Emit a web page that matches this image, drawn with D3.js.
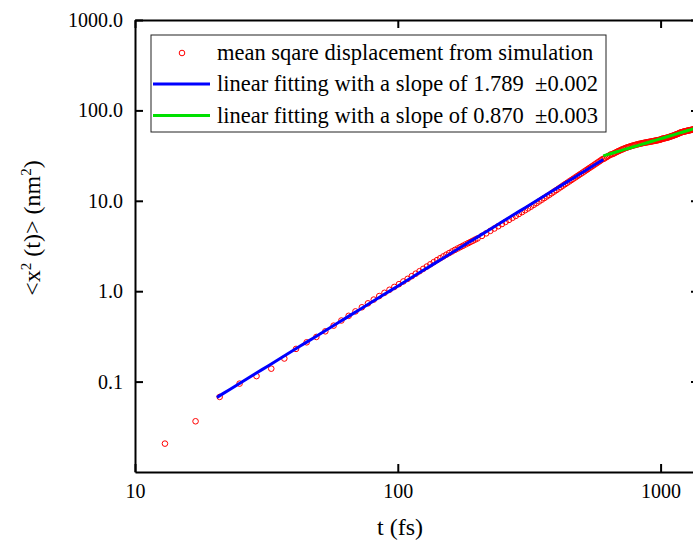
<!DOCTYPE html>
<html>
<head>
<meta charset="utf-8">
<script src="https://cdn.jsdelivr.net/npm/d3@7"></script>
<style>
  body { margin: 0; background: #ffffff; }
  svg { display: block; }
  text { font-family: "Liberation Serif", "Times New Roman", serif; fill: #000; white-space: pre; }
</style>
</head>
<body>
<svg id="chart" width="693" height="545"></svg>
<script>
// Time points of the simulation output (fs)
const times = [
  13, 17, 21, 25, 29, 33, 37, 41, 45, 49, 53, 57,
  61, 65, 69, 73, 77, 81, 85, 89, 93, 97, 101, 105, 109, 113, 117, 121,
  125, 129, 133, 137, 141, 145, 149, 153, 157, 161, 165, 169, 173, 177,
  181, 185, 189, 193, 197, 201,
  209, 217, 225, 233, 241, 249, 257, 265, 273, 281,
  289, 297, 305, 313, 321, 329, 337, 345, 353, 361,
  369, 377, 385, 393, 401, 409, 417, 425, 433, 441,
  449, 457, 465, 473, 481, 489, 497, 505, 513, 521,
  529, 537, 545, 553, 561, 569, 577, 585, 593, 601,
  609, 617, 625, 633, 641, 649, 657, 665, 673, 681,
  689, 697, 705, 713, 721, 729, 737, 745, 753, 761,
  769, 777, 785, 793, 801, 809, 817, 825, 833, 841,
  849, 857, 865, 873, 881, 889, 897, 905, 913, 921,
  929, 937, 945, 953, 961, 969, 977, 985, 993, 1001,
  1009, 1017, 1025, 1033, 1041, 1049, 1057, 1065, 1073, 1081,
  1089, 1097, 1105, 1113, 1121, 1129, 1137, 1145, 1153, 1161,
  1169, 1177, 1185, 1193, 1201, 1209, 1217, 1225, 1233, 1241,
  1249, 1257, 1265, 1273, 1281, 1289, 1297, 1305, 1313, 1321,
  1329, 1337, 1345, 1353, 1361, 1369, 1377, 1385, 1393, 1401
];

// Mean square displacement <x^2(t)> (nm^2)
const msd = [
  0.0206, 0.0364, 0.0677, 0.095, 0.115, 0.139, 0.180, 0.230, 0.272, 0.312, 0.360, 0.416,
  0.474, 0.534, 0.598, 0.664, 0.734, 0.808, 0.884, 0.960, 1.037, 1.115, 1.196, 1.282,
  1.370, 1.466, 1.563, 1.664, 1.768, 1.875, 1.985, 2.097, 2.208, 2.316, 2.426, 2.537,
  2.645, 2.754, 2.865, 2.970, 3.075, 3.182, 3.289, 3.396, 3.505, 3.613, 3.724, 3.832,
  4.090, 4.365, 4.647, 4.935, 5.228, 5.530, 5.837, 6.152, 6.477, 6.803,
  7.155, 7.496, 7.860, 8.230, 8.612, 9.022, 9.417, 9.842, 10.28, 10.72,
  11.18, 11.64, 12.12, 12.63, 13.12, 13.66, 14.17, 14.73, 15.27, 15.81,
  16.36, 16.93, 17.51, 18.09, 18.68, 19.29, 19.90, 20.52, 21.15, 21.80,
  22.46, 23.12, 23.79, 24.47, 25.18, 25.88, 26.60, 27.32, 28.06, 28.87,
  29.21, 29.95, 30.66, 31.35, 32.05, 32.70, 32.87, 33.49, 34.11, 34.71,
  35.29, 35.85, 36.41, 36.94, 37.46, 37.96, 38.43, 38.89, 39.29, 39.69,
  40.07, 40.45, 40.82, 41.16, 41.50, 41.82, 42.14, 42.44, 42.72, 43.01,
  43.27, 43.52, 43.77, 44.00, 44.23, 44.45, 44.66, 44.87, 45.08, 45.31,
  45.51, 45.74, 45.96, 46.19, 46.42, 46.64, 46.88, 47.11, 47.36, 47.60,
  48.33, 48.58, 48.84, 49.08, 49.35, 49.59, 49.87, 50.21, 50.56, 50.91,
  51.29, 51.67, 52.06, 52.44, 52.84, 53.27, 53.68, 54.11, 54.53, 54.97,
  55.42, 55.88, 56.65, 56.96, 57.28, 57.60, 57.91, 58.20, 58.50, 58.77,
  59.04, 59.31, 59.58, 59.83, 60.06, 60.33, 60.55, 60.78, 61.01, 61.22,
  61.43, 61.69, 61.92, 62.17, 62.41, 62.66, 62.89, 63.13, 63.37, 63.61
];

// Power-law fits: log10(msd) = intercept + slope * log10(t)
const fitSlopes = [1.789, 0.870];
const fitErrors = [0.002, 0.003];
const fitLogIntercepts = [-3.521, -0.923];
const fitStart = [20.5, 605];
const fitEnd = [605, 1400];
const fitColors = ["#0000ff", "#00e000"];

const xTicks = [10, 100, 1000];
const yTicks = [0.1, 1, 10, 100, 1000];

const legendLabels = [
  "mean sqare displacement from simulation",
  `linear fitting with a slope of ${fitSlopes[0].toFixed(3)}  \u00b1${fitErrors[0].toFixed(3)}`,
  `linear fitting with a slope of ${fitSlopes[1].toFixed(3)}  \u00b1${fitErrors[1].toFixed(3)}`
];

const serif = '"Liberation Serif", "Times New Roman", serif';

// ---- layout ----
const frame = { left: 135, right: 699, top: 20, bottom: 472 };
const svg = d3.select("#chart");

const x = d3.scaleLog().domain([10, 1400]).range([frame.left, frame.right]);
const y = d3.scaleLog().domain([0.01, 1000]).range([frame.bottom, frame.top]);

svg.append("defs").append("clipPath").attr("id", "plot-clip")
  .append("rect")
  .attr("x", frame.left).attr("y", frame.top)
  .attr("width", frame.right - frame.left).attr("height", frame.bottom - frame.top);

const plot = svg.append("g").attr("clip-path", "url(#plot-clip)");

// simulation points
const points = times.map((t, i) => ({ t, v: msd[i] }));
plot.append("g").selectAll("circle")
  .data(points)
  .join("circle")
  .attr("cx", d => x(d.t))
  .attr("cy", d => y(d.v))
  .attr("r", 2.8)
  .attr("fill", "none")
  .attr("stroke", "#ff0000")
  .attr("stroke-width", 1);

// fitted lines
const line = d3.line().x(d => x(d[0])).y(d => y(d[1]));
fitSlopes.forEach((s, i) => {
  const ts = d3.range(0, 61).map(k => fitStart[i] * Math.pow(fitEnd[i] / fitStart[i], k / 60));
  const pts = ts.map(t => [t, Math.pow(10, fitLogIntercepts[i] + s * Math.log10(t))]);
  plot.append("path")
    .attr("d", line(pts))
    .attr("fill", "none")
    .attr("stroke", fitColors[i])
    .attr("stroke-width", 3);
});

// ---- axes ----
function styleAxis(g) {
  g.attr("font-family", null).attr("font-size", null);
  g.select(".domain").attr("stroke", "#000").attr("stroke-width", 2);
  g.selectAll(".tick line").attr("stroke", "#000").attr("stroke-width", 2);
  g.selectAll(".tick text")
    .style("font-family", serif)
    .style("font-size", "20px")
    .attr("fill", "#000");
}

svg.append("g")
  .attr("transform", `translate(0,${frame.bottom})`)
  .call(d3.axisBottom(x).tickValues(xTicks).tickSize(-8).tickSizeOuter(0)
    .tickPadding(12).tickFormat(d3.format("d")))
  .call(styleAxis);

svg.append("g")
  .attr("transform", `translate(0,${frame.top})`)
  .call(d3.axisTop(x).tickValues(xTicks).tickSize(-8).tickSizeOuter(0).tickFormat(""))
  .call(styleAxis);

svg.append("g")
  .attr("transform", `translate(${frame.left},0)`)
  .call(d3.axisLeft(y).tickValues(yTicks).tickSize(-8).tickSizeOuter(0)
    .tickPadding(12).tickFormat(d3.format(".1f")))
  .call(styleAxis);

svg.append("g")
  .attr("transform", `translate(${frame.right},0)`)
  .call(d3.axisRight(y).tickValues(yTicks).tickSize(-8).tickSizeOuter(0).tickFormat(""))
  .call(styleAxis);

// ---- axis titles ----
svg.append("text")
  .attr("x", 400).attr("y", 535)
  .attr("text-anchor", "middle")
  .style("font-family", serif)
  .style("font-size", "24px")
  .text("t (fs)");

const yTitle = svg.append("text")
  .attr("transform", "translate(40,228) rotate(-90)")
  .attr("text-anchor", "middle")
  .style("font-family", serif)
  .style("font-size", "24px");
yTitle.append("tspan").text("<x");
yTitle.append("tspan").attr("dy", -9).style("font-size", "15px").text("2");
yTitle.append("tspan").attr("dy", 9).text(" (t)> (nm");
yTitle.append("tspan").attr("dy", -9).style("font-size", "15px").text("2");
yTitle.append("tspan").attr("dy", 9).text(")");

// ---- legend ----
const legend = svg.append("g");
legend.append("rect")
  .attr("x", 151).attr("y", 35).attr("width", 455).attr("height", 97)
  .attr("fill", "#fff").attr("stroke", "#222").attr("stroke-width", 1);

const rowY = [53, 84, 115.5];
legend.append("circle")
  .attr("cx", 182).attr("cy", rowY[0]).attr("r", 2.8)
  .attr("fill", "none").attr("stroke", "#ff0000").attr("stroke-width", 1);
fitColors.forEach((c, i) => {
  legend.append("line")
    .attr("x1", 153).attr("x2", 210)
    .attr("y1", rowY[i + 1]).attr("y2", rowY[i + 1])
    .attr("stroke", c).attr("stroke-width", 3);
});
legendLabels.forEach((lab, i) => {
  legend.append("text")
    .attr("x", 217).attr("y", rowY[i])
    .attr("dy", "0.33em")
    .style("font-family", serif)
    .style("font-size", "22.5px")
    .text(lab);
});
</script>
</body>
</html>
